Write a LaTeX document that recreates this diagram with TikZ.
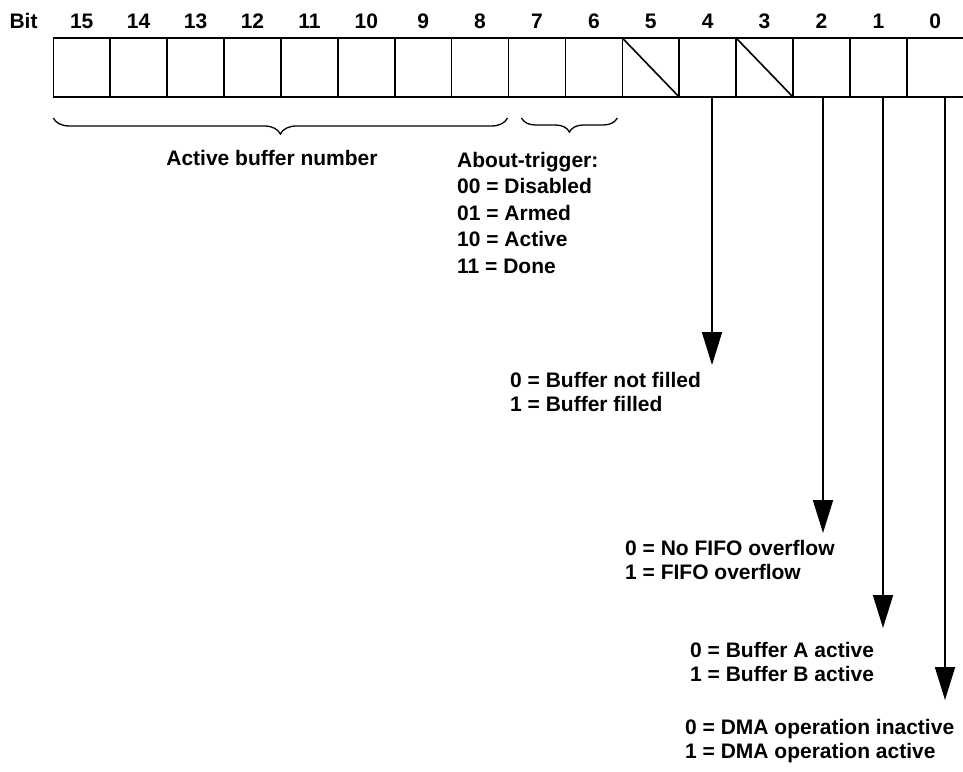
\documentclass[tikz,border=0pt]{standalone}
\usepackage{fontspec}
\setmainfont{Liberation Sans}
\usetikzlibrary{arrows.meta,positioning,calc,decorations.pathreplacing}

\begin{document}
\begin{tikzpicture}[
      x=1pt,y=-1pt,
      font=\fontsize{21}{24}\selectfont\bfseries,
      cell/.style={draw,line width=1.6pt,minimum width=56.9pt,minimum height=59pt,
        inner sep=0pt,outer sep=0pt,anchor=north west},
      bitnum/.style={inner sep=0pt},
      note/.style={align=left,inner sep=0pt,anchor=north west},
      arrow/.style={-{Triangle[length=33pt,width=20pt]},line width=1.8pt},
      curly/.style={decorate,decoration={brace,mirror,amplitude=#1},line width=1.3pt}
    ]
      \useasboundingbox (0,0) rectangle (963,771);
      \node[bitnum] (bitlbl) at (23.5,21) {Bit};
      \foreach \i [count=\k from 0] in {15,...,0} {
        \node[cell] (b\i) at (53.3+\k*56.9,38) {};
        \node[bitnum] (n\i) at ([yshift=17pt]b\i.north) {\i};
      }
      \draw[line width=1.6pt] (b5.north west)--(b5.south east);
      \draw[line width=1.6pt] (b3.north west)--(b3.south east);
      \draw[curly=16pt] ($(b15.south west)+(0,21)$)--($(b8.south east)+(-1,21)$);
      \draw[curly=14pt] ($(b7.south west)+(13,21)$)--($(b6.south east)+(-5,21)$);
      \node (buflbl) at (272,158) {Active buffer number};
      \node[note,font=\fontsize{21}{26.5}\selectfont\bfseries] (trig) at (457,152)
        {About-trigger:\\00 = Disabled\\01 = Armed\\10 = Active\\11 = Done};
      \coordinate (end4) at (712,365);
      \coordinate (end2) at (823,533);
      \coordinate (end1) at (883,628);
      \coordinate (end0) at (945,700);
      \draw[arrow] (b4.south -| end4)--(end4);
      \draw[arrow] (b2.south -| end2)--(end2);
      \draw[arrow] (b1.south -| end1)--(end1);
      \draw[arrow] (b0.south -| end0)--(end0);
      \node[note] (filled) at (510,372) {0 = Buffer not filled\\1 = Buffer filled};
      \node[note] (fifo) at (625,540) {0 = No FIFO overflow\\1 = FIFO overflow};
      \node[note] (bufab) at (690,642) {0 = Buffer A active\\1 = Buffer B active};
      \node[note] (dma) at (685,719) {0 = DMA operation inactive\\1 = DMA operation active};
    \end{tikzpicture}
\end{document}
